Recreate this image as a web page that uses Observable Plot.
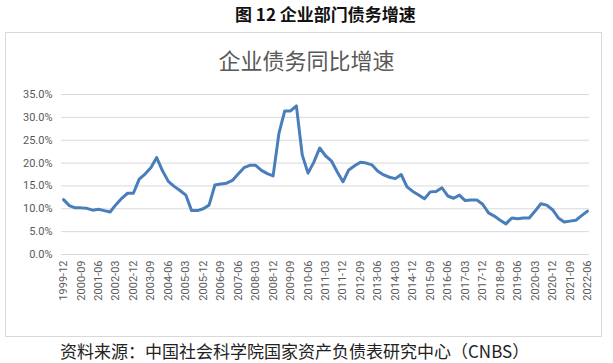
<!DOCTYPE html>
<html>
<head>
<meta charset="utf-8">
<script src="https://cdn.jsdelivr.net/npm/d3@7"></script>
<script src="https://cdn.jsdelivr.net/npm/@observablehq/plot@0.6"></script>
<style>
  html, body { margin: 0; padding: 0; background: #fff; }
  #page { position: relative; width: 613px; height: 363px; overflow: hidden; font-family: "Noto Sans CJK SC", sans-serif; }
  #title { position: absolute; left: 235px; top: 1px; white-space: nowrap; font-size: 17px; font-weight: bold; color: #111; }
  #box { position: absolute; left: 5px; top: 32px; width: 597px; height: 305px; border: 1px solid #d9d9d9; box-sizing: border-box; }
  #subtitle { position: absolute; left: 0; width: 613px; top: 43px; text-align: center; font-size: 22px; color: #595959; }
  #chart { position: absolute; left: 0; top: 0; }
  #caption { position: absolute; left: 60px; top: 338px; white-space: nowrap; font-size: 17px; color: #222; }
</style>
</head>
<body>
<div id="page">
  <div id="title">图 12&nbsp;企业部门债务增速</div>
  <div id="box"></div>
  <div id="subtitle">企业债务同比增速</div>
  <div id="chart"></div>
  <div id="caption">资料来源：中国社会科学院国家资产负债表研究中心（CNBS）</div>
</div>
<script>
const quarters = [
  "1999-12",
  "2000-03","2000-06","2000-09","2000-12",
  "2001-03","2001-06","2001-09","2001-12",
  "2002-03","2002-06","2002-09","2002-12",
  "2003-03","2003-06","2003-09","2003-12",
  "2004-03","2004-06","2004-09","2004-12",
  "2005-03","2005-06","2005-09","2005-12",
  "2006-03","2006-06","2006-09","2006-12",
  "2007-03","2007-06","2007-09","2007-12",
  "2008-03","2008-06","2008-09","2008-12",
  "2009-03","2009-06","2009-09","2009-12",
  "2010-03","2010-06","2010-09","2010-12",
  "2011-03","2011-06","2011-09","2011-12",
  "2012-03","2012-06","2012-09","2012-12",
  "2013-03","2013-06","2013-09","2013-12",
  "2014-03","2014-06","2014-09","2014-12",
  "2015-03","2015-06","2015-09","2015-12",
  "2016-03","2016-06","2016-09","2016-12",
  "2017-03","2017-06","2017-09","2017-12",
  "2018-03","2018-06","2018-09","2018-12",
  "2019-03","2019-06","2019-09","2019-12",
  "2020-03","2020-06","2020-09","2020-12",
  "2021-03","2021-06","2021-09","2021-12",
  "2022-03","2022-06"
];
const growth = [
  12.0,
  10.7, 10.2, 10.2, 10.1,
  9.7, 9.9, 9.6, 9.3,
  10.9, 12.3, 13.4, 13.4,
  16.5, 17.6, 19.0, 21.2,
  18.3, 16.0, 14.9, 14.0,
  13.0, 9.6, 9.6, 10.0,
  10.8, 15.2, 15.4, 15.6,
  16.2, 17.6, 19.0, 19.5,
  19.5, 18.4, 17.7, 17.2,
  26.5, 31.4, 31.4, 32.5,
  21.8, 17.8, 20.2, 23.3,
  21.6, 20.5, 18.1, 15.9,
  18.5, 19.4, 20.2, 20.0,
  19.6, 18.2, 17.4, 16.9,
  16.6, 17.5, 14.8, 13.8,
  13.0, 12.2, 13.7, 13.8,
  14.6, 12.8, 12.3, 13.0,
  11.8, 11.9, 11.9, 11.0,
  9.1, 8.4, 7.5, 6.7,
  8.0, 7.8, 8.0, 8.0,
  9.5, 11.1, 10.8, 9.8,
  8.0, 7.1, 7.3, 7.5,
  8.5, 9.5
];
const xTickLabels = [
  "1999-12","2000-09","2001-06","2002-03","2002-12","2003-09","2004-06","2005-03",
  "2005-12","2006-09","2007-06","2008-03","2008-12","2009-09","2010-06","2011-03",
  "2011-12","2012-09","2013-06","2014-03","2014-12","2015-09","2016-06","2017-03",
  "2017-12","2018-09","2019-06","2020-03","2020-12","2021-09","2022-06"
];
const yTicks = [0, 5, 10, 15, 20, 25, 30, 35];

const data = quarters.map((q, i) => ({q, v: growth[i]}));

const chart = Plot.plot({
  width: 613,
  height: 312,
  marginTop: 94,
  marginBottom: 58,
  marginLeft: 61,
  marginRight: 24,
  style: {fontFamily: "Roboto, sans-serif", fontSize: "11px", color: "#595959", background: "transparent", overflow: "visible"},
  x: {type: "point", domain: quarters, padding: 0.35, label: null},
  y: {domain: [0, 35], label: null},
  marks: [
    Plot.gridY(yTicks, {stroke: "#d9d9d9", strokeOpacity: 1, strokeWidth: 1}),
    Plot.axisY(yTicks, {tickSize: 0, tickPadding: 9, tickFormat: d => d.toFixed(1) + "%", fill: "#595959"}),
    Plot.axisX(xTickLabels, {tickSize: 0, tickRotate: -90, tickPadding: 6, fill: "#595959"}),
    Plot.line(data, {x: "q", y: "v", stroke: "#4a7ebb", strokeWidth: 3, strokeLinejoin: "round", strokeLinecap: "round"})
  ]
});
document.getElementById("chart").appendChild(chart);
</script>
</body>
</html>
